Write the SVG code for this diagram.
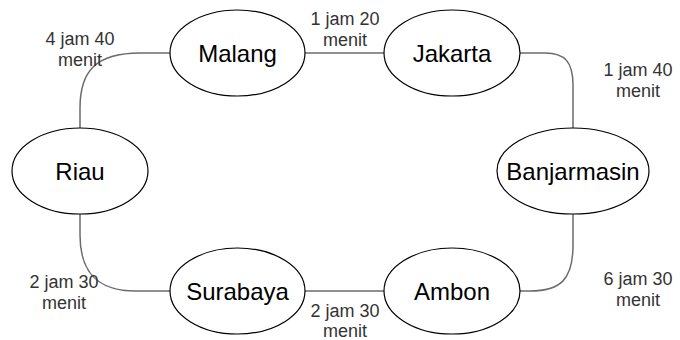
<svg xmlns="http://www.w3.org/2000/svg" width="680" height="340" viewBox="0 0 680 340">
  <style>
    .node ellipse { fill: #ffffff; stroke: #000000; stroke-width: 1.2; }
    .node text { font-family: "Liberation Sans", Arial, sans-serif; font-size: 24px; fill: #000000; text-anchor: middle; dominant-baseline: central; }
    .edge { fill: none; stroke: #6b6b6b; stroke-width: 1.5; }
    .lbl { font-family: "Liberation Sans", Arial, sans-serif; font-size: 18px; fill: #333333; text-anchor: middle; }
  </style>
  <rect width="680" height="340" fill="#ffffff"/>

  <!-- connectors -->
  <g id="edges">
    <path class="edge" d="M305,53 L384,53"/>
    <path class="edge" d="M170,53 L140,53 C95,53 80,72 80,108 L80,128"/>
    <path class="edge" d="M520,53 L545,53 C565,53 573,62 573,85 L573,128"/>
    <path class="edge" d="M80,214 L80,235 C80,275 100,291 135,291 L170,291"/>
    <path class="edge" d="M305,291 L384,291"/>
    <path class="edge" d="M573,214 L573,245 C573,280 560,291 530,291 L520,291"/>
  </g>

  <!-- travel time labels -->
  <g id="labels">
    <text class="lbl" x="80" y="45">4 jam 40</text>
    <text class="lbl" x="80" y="66">menit</text>
    <text class="lbl" x="345" y="25">1 jam 20</text>
    <text class="lbl" x="345" y="46">menit</text>
    <text class="lbl" x="638" y="76">1 jam 40</text>
    <text class="lbl" x="638" y="97">menit</text>
    <text class="lbl" x="64" y="288">2 jam 30</text>
    <text class="lbl" x="64" y="309">menit</text>
    <text class="lbl" x="345" y="317">2 jam 30</text>
    <text class="lbl" x="345" y="337">menit</text>
    <text class="lbl" x="638" y="285">6 jam 30</text>
    <text class="lbl" x="638" y="306">menit</text>
  </g>

  <!-- cities -->
  <g id="malang" class="node">
    <ellipse cx="237.5" cy="53" rx="67.5" ry="43"/>
    <text x="237.5" y="53">Malang</text>
  </g>
  <g id="jakarta" class="node">
    <ellipse cx="452" cy="53" rx="68" ry="43"/>
    <text x="452" y="53">Jakarta</text>
  </g>
  <g id="riau" class="node">
    <ellipse cx="80" cy="171" rx="68" ry="43"/>
    <text x="80" y="171">Riau</text>
  </g>
  <g id="banjarmasin" class="node">
    <ellipse cx="573" cy="171" rx="76" ry="43"/>
    <text x="573" y="171">Banjarmasin</text>
  </g>
  <g id="surabaya" class="node">
    <ellipse cx="237.5" cy="291" rx="67.5" ry="43"/>
    <text x="237.5" y="291">Surabaya</text>
  </g>
  <g id="ambon" class="node">
    <ellipse cx="452" cy="291" rx="68" ry="43"/>
    <text x="452" y="291">Ambon</text>
  </g>
</svg>
